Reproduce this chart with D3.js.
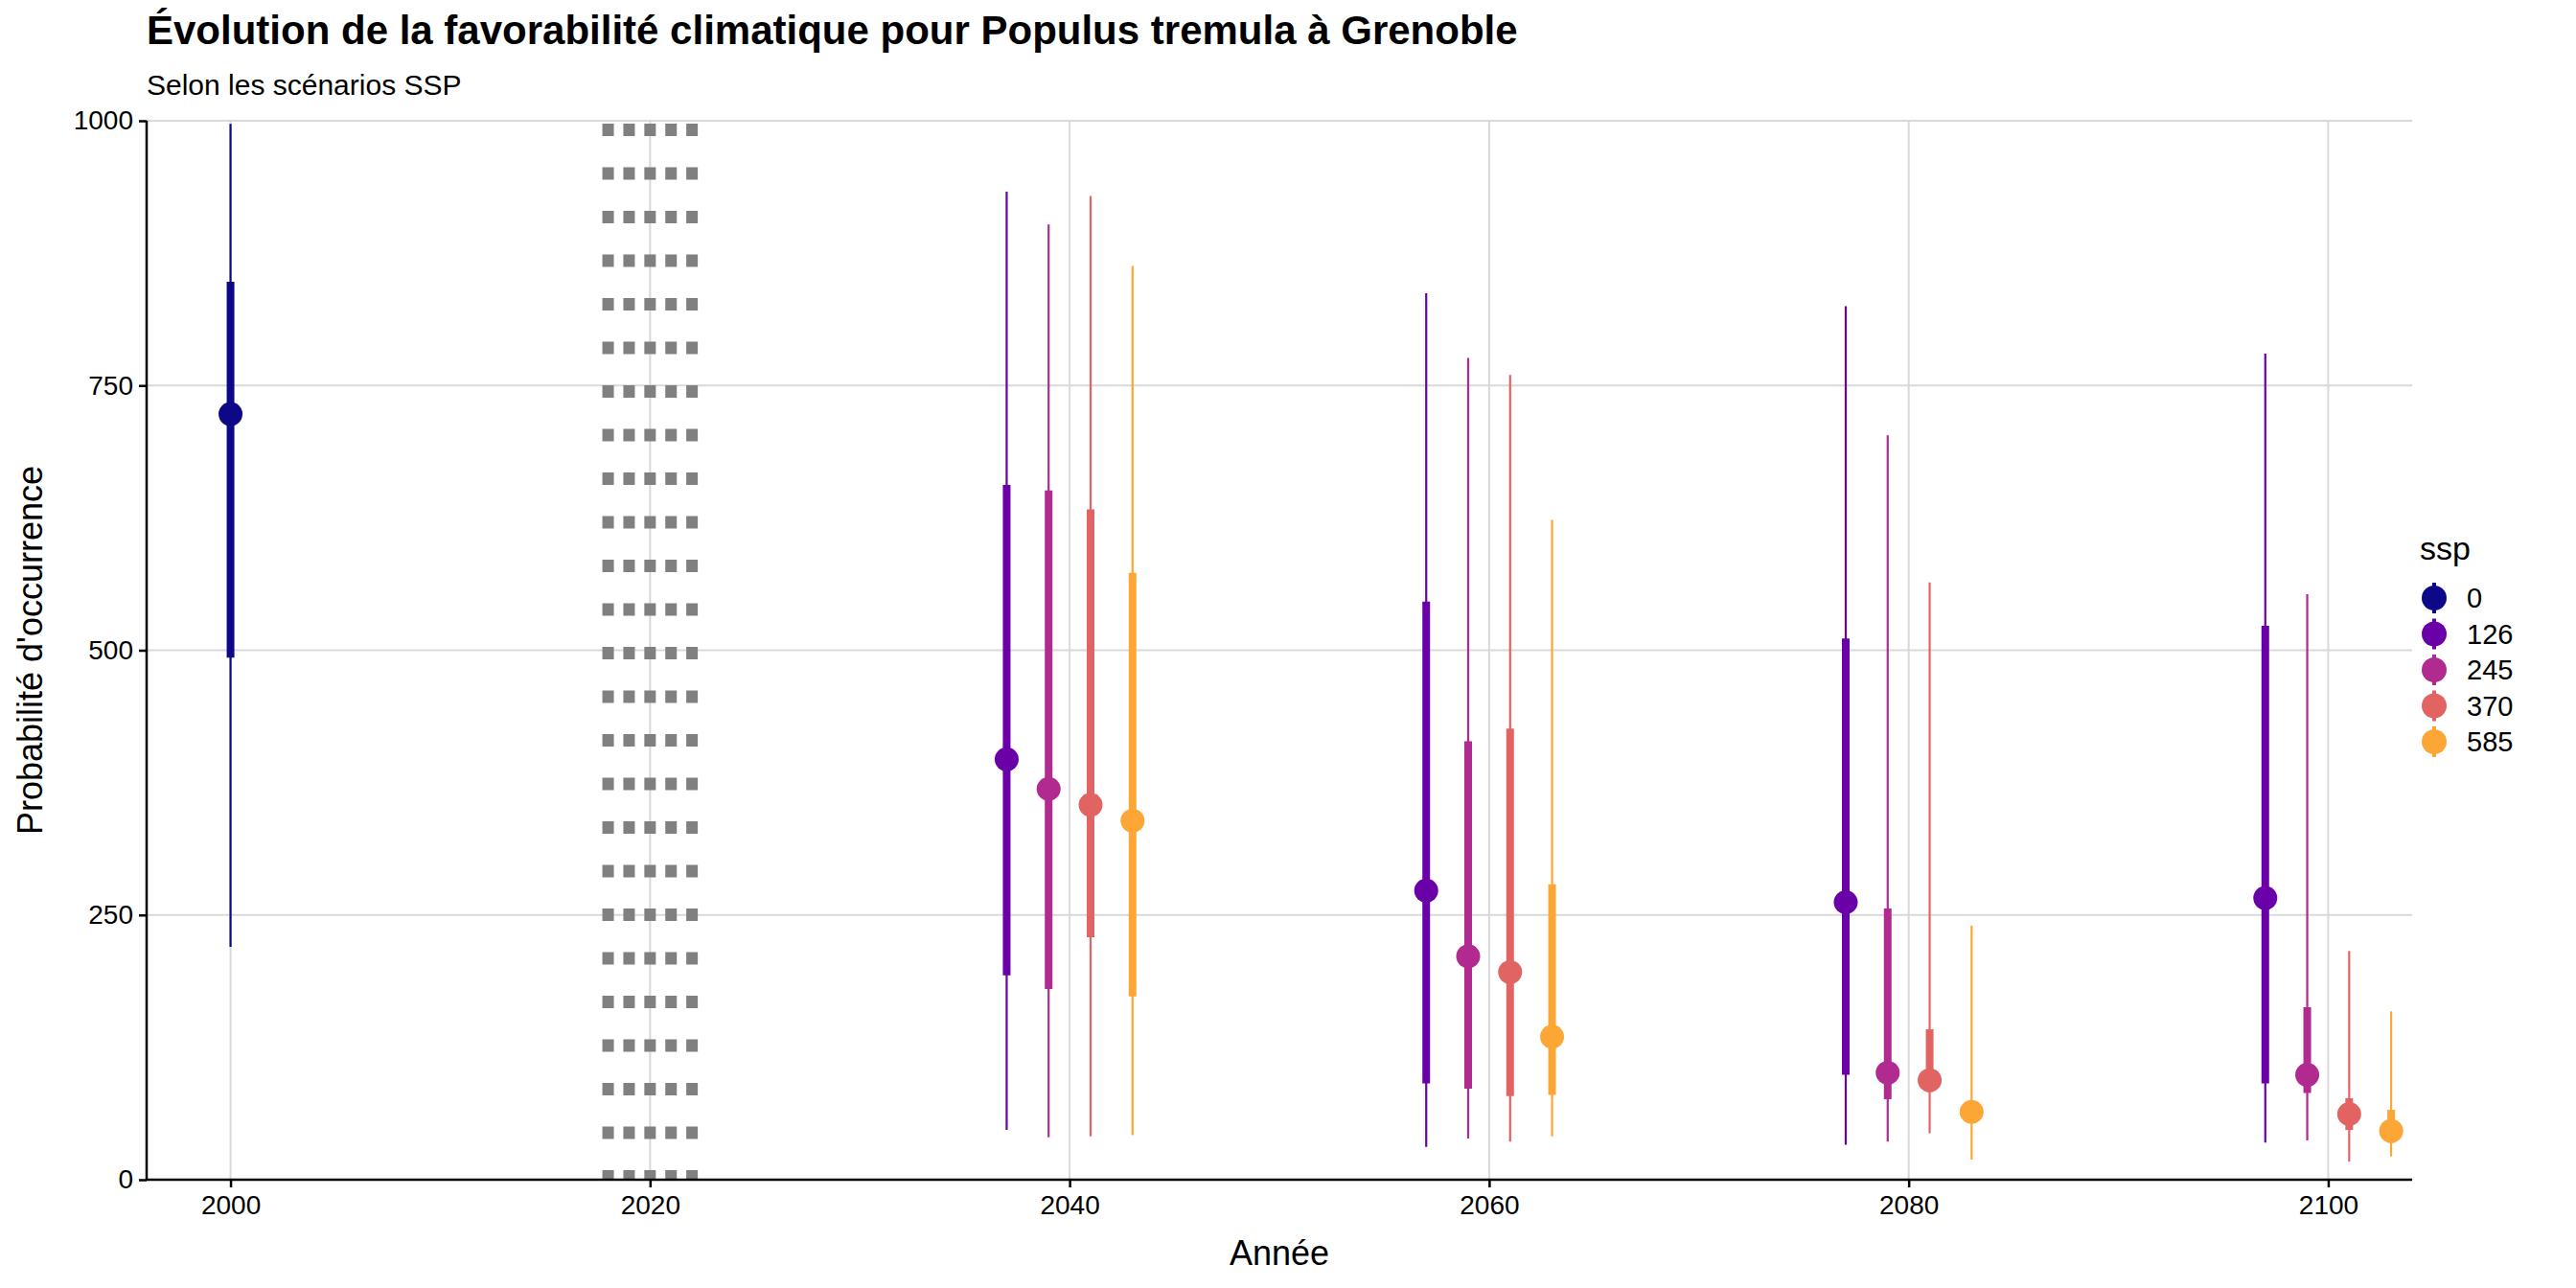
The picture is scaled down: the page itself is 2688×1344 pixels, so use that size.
<!DOCTYPE html>
<html><head><meta charset="utf-8">
<script src="https://cdn.jsdelivr.net/npm/d3@7"></script>
<style>body{margin:0;background:#fff}svg{font-family:"Liberation Sans",Arial,sans-serif}</style>
</head><body>
<script>
const sspLevels = ["0","126","245","370","585"];
const sspColors = ["#0D0887","#6A00A8","#B12A90","#E16462","#FCA636"];
const years  = [2000, 2037,2039,2041,2043, 2057,2059,2061,2063, 2077,2079,2081,2083, 2097,2099,2101,2103];
const ssps   = ["0", "126","245","370","585", "126","245","370","585", "126","245","370","585", "126","245","370","585"];
const median = [723, 397,369,354,339, 273,211,196,135, 262,101,94,64, 266,99,62,46];
const q25    = [493, 193,180,229,173, 91,86,79,80, 99,76,83,55, 91,82,47,35];
const q75    = [848, 656,651,633,573, 546,414,426,279, 511,256,142,72, 523,163,77,66];
const lo     = [220, 47,40,41,42, 31,39,36,41, 33,36,44,19, 35,37,17,22];
const hi     = [997, 933,902,929,863, 837,776,760,623, 825,703,564,240, 780,553,216,159];
const xTicks = [2000,2020,2040,2060,2080,2100];
const yTicks = [0,250,500,750,1000];
const refYears = [2018,2019,2020,2021,2022];

const W=2688,H=1344;
const svg=d3.select("body").append("svg").attr("width",W).attr("height",H);
const x=d3.scaleLinear().domain([1996,2104]).range([153,2517]);
const y=d3.scaleLinear().domain([0,1000]).range([1231,126]);
const col=d3.scaleOrdinal().domain(sspLevels).range(sspColors);
const grid="#d9d9d9";

svg.append("g").selectAll("line").data(yTicks).join("line")
 .attr("x1",153).attr("x2",2517).attr("y1",d=>y(d)).attr("y2",d=>y(d)).attr("stroke",grid).attr("stroke-width",2);
svg.append("g").selectAll("line").data(xTicks).join("line")
 .attr("x1",d=>x(d)).attr("x2",d=>x(d)).attr("y1",126).attr("y2",1231).attr("stroke",grid).attr("stroke-width",2);

svg.append("g").selectAll("line").data(refYears).join("line")
 .attr("x1",d=>x(d)).attr("x2",d=>x(d)).attr("y1",y(1000)+3).attr("y2",y(0))
 .attr("stroke","#808080").attr("stroke-width",12).attr("stroke-dasharray","13 32.5");

const data=years.map((yr,i)=>({yr,ssp:ssps[i],m:median[i],q1:q25[i],q3:q75[i],lo:lo[i],hi:hi[i]}));
const g=svg.append("g");
g.selectAll(".thin").data(data).join("line").attr("x1",d=>x(d.yr)).attr("x2",d=>x(d.yr))
 .attr("y1",d=>y(d.lo)).attr("y2",d=>y(d.hi)).attr("stroke",d=>col(d.ssp)).attr("stroke-width",2.2);
g.selectAll(".thick").data(data).join("line").attr("x1",d=>x(d.yr)).attr("x2",d=>x(d.yr))
 .attr("y1",d=>y(d.q1)).attr("y2",d=>y(d.q3)).attr("stroke",d=>col(d.ssp)).attr("stroke-width",8);
g.selectAll("circle").data(data).join("circle").attr("cx",d=>x(d.yr)).attr("cy",d=>y(d.m))
 .attr("r",12.5).attr("fill",d=>col(d.ssp));

const xa=svg.append("g").attr("transform","translate(0,1231)")
 .call(d3.axisBottom(x).tickValues(xTicks).tickFormat(d3.format("d")).tickSize(8).tickPadding(8));
const ya=svg.append("g").attr("transform","translate(153,0)")
 .call(d3.axisLeft(y).tickValues(yTicks).tickFormat(d3.format("d")).tickSize(8).tickPadding(6));
[xa,ya].forEach(a=>{a.select(".domain").attr("stroke","#000").attr("stroke-width",2.5);
 a.selectAll(".tick line").attr("stroke","#000").attr("stroke-width",2.5);
 a.selectAll("text").attr("font-size",28).attr("fill","#000").attr("font-family","Liberation Sans, Arial, sans-serif");});
xa.select(".domain").attr("d","M153,0H2517");
ya.select(".domain").attr("d","M0,126V1231");

svg.append("text").attr("x",153).attr("y",46).attr("font-size",42).attr("font-weight","bold")
 .text("Évolution de la favorabilité climatique pour Populus tremula à Grenoble");
svg.append("text").attr("x",153).attr("y",99).attr("font-size",30).text("Selon les scénarios SSP");
svg.append("text").attr("x",x(2050)).attr("y",1320).attr("text-anchor","middle").attr("font-size",36).text("Année");
svg.append("text").attr("transform",`translate(44,${y(500)}) rotate(-90)`).attr("text-anchor","middle").attr("font-size",36).text("Probabilité d'occurrence");

const lg=svg.append("g");
lg.append("text").attr("x",2525).attr("y",584).attr("font-size",34).text("ssp");
sspLevels.forEach((s,i)=>{
 const cy=624+i*37.5;
 lg.append("line").attr("x1",2540).attr("x2",2540).attr("y1",cy-16).attr("y2",cy+16).attr("stroke",col(s)).attr("stroke-width",4);
 lg.append("circle").attr("cx",2540).attr("cy",cy).attr("r",13).attr("fill",col(s));
 lg.append("text").attr("x",2574).attr("y",cy+10).attr("font-size",29).text(s);
});
</script>
</body></html>
